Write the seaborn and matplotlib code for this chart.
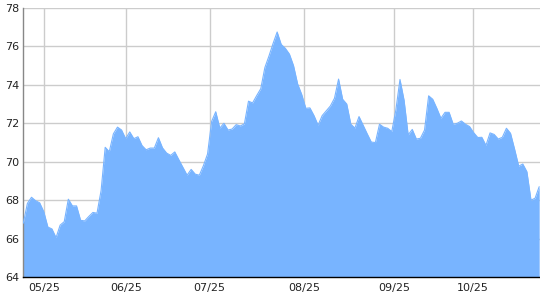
import numpy as np
import pandas as pd
import matplotlib
matplotlib.use("Agg")
import matplotlib.pyplot as plt
import seaborn as sns
from matplotlib.ticker import FixedLocator

# ---- data (one value per trading day) ----
values = [
    66.8, 67.83, 68.15, 67.97, 67.86, 67.4, 66.6, 66.5, 66.05, 66.7,
    66.88, 68.05, 67.7, 67.7, 66.95, 66.92, 67.15, 67.36, 67.32, 68.5,
    70.75, 70.52, 71.45, 71.8, 71.65, 71.2, 71.55, 71.2, 71.3, 70.84,
    70.62, 70.71, 70.71, 71.25, 70.72, 70.45, 70.33, 70.51, 70.1, 69.7,
    69.3, 69.6, 69.35, 69.3, 69.8, 70.4, 72.1, 72.6, 71.75, 72.0,
    71.65, 71.7, 71.93, 71.86, 71.97, 73.15, 73.06, 73.44, 73.8, 74.9,
    75.5, 76.15, 76.75, 76.1, 75.9, 75.6, 75.0, 74.05, 73.5, 72.78,
    72.8, 72.4, 71.9, 72.4, 72.65, 72.9, 73.3, 74.3, 73.25, 73.0,
    71.95, 71.75, 72.35, 71.9, 71.45, 71.02, 71.0, 71.95, 71.8, 71.74,
    71.57, 72.7, 74.28, 73.2, 71.4, 71.68, 71.18, 71.22, 71.65, 73.43,
    73.25, 72.78, 72.26, 72.57, 72.57, 71.95, 72.0, 72.12, 71.95, 71.83,
    71.51, 71.26, 71.27, 70.85, 71.5, 71.42, 71.18, 71.27, 71.74, 71.48,
    70.65, 69.77, 69.88, 69.48, 68.0, 68.1, 68.7,
]
day_index = list(range(len(values)))

x_tick_labels = ["05/25", "06/25", "07/25", "08/25", "09/25", "10/25"]
x_tick_index = [5.13, 25.15, 45.52, 68.62, 90.6, 109.9]
y_ticks = [64, 66, 68, 70, 72, 74, 76, 78]

df = pd.DataFrame({"day": day_index, "value": values})

# ---- style ----
sns.set_style("white")
plt.rcParams["font.family"] = ["DejaVu Sans"]

fill_color = "#78b4ff"

fig = plt.figure(figsize=(5.4, 3.0), dpi=100)
ax = fig.add_axes([23.3 / 540, 23 / 300, 1 - 23.3 / 540, 269 / 300])

ax.fill_between(df["day"], df["value"], 64, color=fill_color, linewidth=0, zorder=2)
sns.lineplot(data=df, x="day", y="value", ax=ax, color=fill_color,
             linewidth=0.8, zorder=3)

ax.set_xlim(0, len(values) - 1 + 0.2)
ax.set_ylim(64, 78)

ax.set_yticks(y_ticks)
ax.set_yticklabels([str(t) for t in y_ticks])
ax.set_xticks(x_tick_index)
ax.set_xticklabels(x_tick_labels)

# minor ticks along the bottom axis, roughly every 3 px
minor = np.linspace(0, len(values) - 1 + 0.2, 173)
ax.xaxis.set_minor_locator(FixedLocator(minor))

ax.grid(True, which="major", color="#cccccc", linewidth=1.0, zorder=0)
ax.set_axisbelow(True)

ax.tick_params(axis="y", which="both", length=0, pad=3, labelsize=8,
               labelcolor="#222222")
ax.tick_params(axis="x", which="major", length=0, pad=4, labelsize=8,
               labelcolor="#222222")
ax.tick_params(axis="x", which="minor", length=3, width=0.8,
               color="#000000", direction="out")

ax.set_xlabel("")
ax.set_ylabel("")

for side in ["top", "right"]:
    ax.spines[side].set_visible(False)
ax.spines["left"].set_color("#888888")
ax.spines["left"].set_linewidth(1.0)
ax.spines["bottom"].set_color("#000000")
ax.spines["bottom"].set_linewidth(1.0)

fig.savefig("out.png", dpi=100)
